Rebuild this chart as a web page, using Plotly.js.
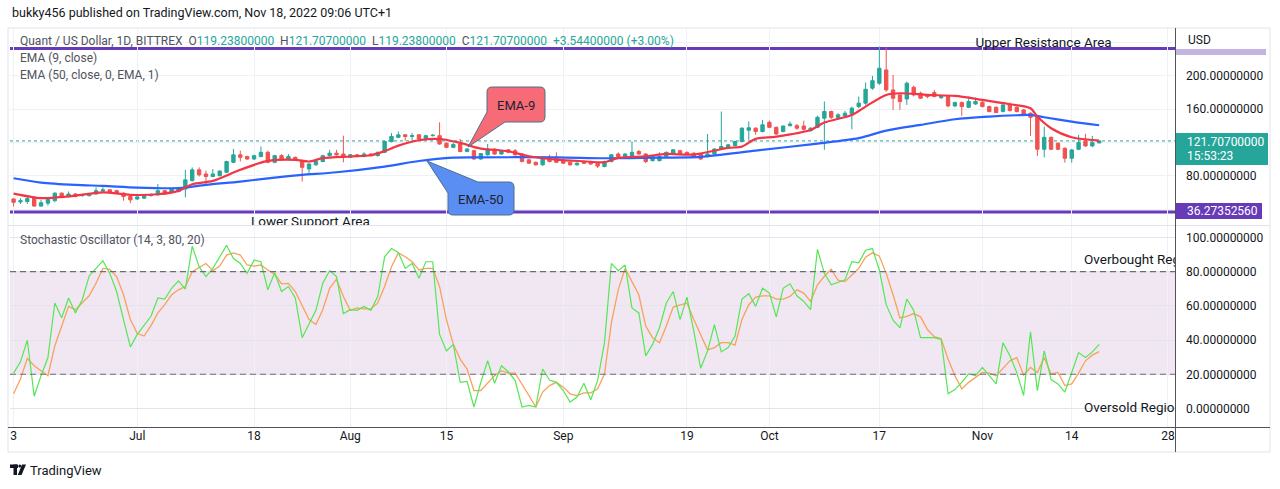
<!DOCTYPE html>
<html><head><meta charset="utf-8">
<script src="https://cdn.plot.ly/plotly-3.0.1.min.js"></script>
<style>html,body{margin:0;padding:0;background:#fff;overflow:hidden}#chart{width:1280px;height:489px}</style>
</head><body><div id="chart"></div>
<script>
// ---------- DATA ----------
const firstDay = '2022-06-13';   // first candle, one candle per day
const openP = [52,48.5,49,53.5,43.5,47,50,59,55,58,
56,56,58,61.5,63,62,59,55,52,53,
56,57,62,60,61,64,74,87,82,79,
80,84,96,105,103,100,103,108,96,104,
100,102,98,88,93,97,104,107,106,102,
105,103,106,104,108,121,126,129,127,129,
124,128,128,119,114,118,109,110,100,105,
112,106,111,110,106,99,96,93,101,101,
99,96,93,96,97,95,91,97,106,103,
103,109,106,98,98,103,106,110,108,107,
106,103,106,112,115,116,121,134.5,137,133,
144,138,133,140,140,139.5,134,138,149,157,
149.7,151.7,154,163,167,185,190.9,206.9,182.9,176.9,
172,186,178.9,176.9,179.7,173.7,174.9,163.7,167.7,162,
166,168.1,162.9,162.1,156.9,164.9,162,158.9,154.9,151.7,
111.7,126,118.9,112.9,100.9,111.7,121.7,115.7,119.238];
const highP = [53,53,54.5,55,51,53,60,60,61,59,
57.5,58.5,66,66,64,63,60,56,55.5,58,
58.5,70,63,65,65.5,87,90,90,86,88,
86.5,98,112,110,104,105,115,110,105,106,
106,103,99,95,100,105,111,111,128,106,
106,108,107,109,122,131,133,130,131,130,
129,130,144,120,119,124,113,111,107,118,
113,111,112,112,107,100,97,101,105,108,
100,97,96,97,98,96,98,106,108,107,
121,111,107,104,108,109,112,111,109,108,
107,130,113,157,118,122,138,145,138,147,
146,139,140,145,142,146,138,152,169,158,
155,157.7,163,175,191.7,199.7,234.9,234.1,200.9,179,
192.9,188,180.9,178,182.9,177,176,169,169,174.9,
173.7,169.5,164,163,166,167.7,163,160,156,152.5,
138.9,127,120,114,112,128.9,130.1,127.7,121.707];
const lowP = [43,46,46,43,43,44,48,53,54,54,
55,55,57,60.5,59,58,50,47,51,52,
55,56,57,59,60,54,73,79,70,78,
79,83,95,97,99,99,102,95,95,98,
99,98,73,82,92,96,103,104,96,101,
102,102,103,103,107,120,125,122,122,123,
123,127,117,113,113,108,108,99,99,104,
105,105,107,104,96,94,92,92,96,95,
94,92,92,94,93,89,90,96,102,102,
102,105,95,97,97,102,105,105,105,101,
99,102,105,111,114,115,120,123,129,132,
137,129,132,139,135,134,133,137,111,148,
147,150,135.7,161,165,183,188.9,180.9,158.9,158.9,
164.9,175,172,173,174,172,162,162,151.7,161,
165,162,156,155,156,157,156,152,127.7,103.7,
102.1,110.5,110.5,95.7,95.7,110.5,114.5,114.1,119.238];
const closeP = [48,50,52.5,43.5,47.5,51.5,59,54,58,55,
56.5,57.5,62,63,60,59,55,51,54.5,57,
57.5,62,58,64,64.5,75,87,81,79,82,
85.5,97,105,102,100,104,108,96,104,99,
103,99,90,94,97,104,107,105,102,105,
103,106,104,108,121,127,129,127,128,124,
128,128.5,118,114,117.5,109,112,100,106.5,112,
106,110,108,105,97,95,93,100,97,96,
95,93,95,95,94,91.5,97,105,103,106,
108,106,97,103,103,108,111,106,106,102,
100,106,112,115,117,121,137,137.5,133,141,
138,130,139.6,142,137,135.7,137,150,157,150,
153,155,161,167,183.7,194,208.9,182.9,172.9,168.9,
190.9,176.9,172.9,174.9,174.9,174.9,163.7,167.7,162.9,169,
169,162.9,156.9,155.7,164.9,158.1,156.9,152.9,150,111.7,
126,111.7,111.7,100.9,110.9,119.7,115.7,119.7,121.707];

// EMA lines read at sample days (day index from firstDay)
const ema9Day = [0,4,6,9,13,17,21,24,26,29,33,37,41,43,45,49,52,54,56,59,62,65,68,72,75,79,83,86,88,92,95,99,104,106,108,111,116,118,122,124,127,129,133,137,141,145,148,149,151,154,158];
const ema9Val = [58.5,53,53.7,56,60,57,57.7,61.7,69.7,73.7,87,97.7,99,97,101,103,104.5,109.5,116,122.5,124,119.3,112.5,109.3,103.3,99.3,97.3,96.1,101.3,103.3,106.1,105.3,113.3,114.9,124.1,126.9,134.9,143.7,152.9,162.9,176.9,178.9,176.9,175.7,170.9,165.7,160.9,150.9,136.9,126.1,122.1];
const ema50Day = [0,4,9,13,18,23,25,28,33,38,42,47,54,59,64,67,79,86,93,100,108,117,123,127,132,137,142,146,148,150,154,158];
const ema50Val = [76.9,71.7,68.9,67.7,65.7,64.9,65.7,68.9,72.9,77.7,80.9,84.1,90.9,97.6,101.6,102,102,100.9,101.6,102.5,110,118.5,125,134,140.9,147.7,150.9,152.5,152.9,150.1,144.9,140.5];

// Stochastic %K and %D, one value per candle
const stochK = [20.7,27.3,39.9,7.2,19.2,29.8,61.7,53,64.6,55.9,
63.6,77.5,81.9,86.4,79,68.4,52,36,43.3,48.5,
53.9,64.6,64,70.3,74.6,69.8,94.9,82.9,77.1,81.9,
89.1,95.4,87.7,84.8,79,86.8,85.8,69.4,79.4,68.4,
71.3,64.6,41.4,49.1,57.4,73.2,80.6,77.1,55.5,57.8,
57.4,59.7,57.4,65.5,88.7,93.5,91.2,81.9,84.8,76.1,
85.8,85.8,43.3,33.7,37.5,15.3,15.9,0.9,15.3,27.9,
14.8,25,21.5,16.3,0.9,1.8,0.9,23.1,16.7,15.3,
10.5,3.8,6.7,14.8,5.1,16.3,38.5,84.8,80.6,83.9,
58.8,55.9,30.8,37.5,47.2,61.7,68.4,52,65.1,45.3,
23.5,33.7,49.1,33.1,35.6,42.4,64,67.1,59.7,70.3,
67.5,53.6,70.3,72.9,65.9,62.6,57.8,93,79,72.3,
73.6,75.2,85.8,85.2,92.5,93.5,81,60.7,51.6,47.2,
64,57.4,41.4,41.4,41.4,40.4,8.6,11.1,15.3,20.2,
19.2,24,19.2,14.4,38.5,30.8,21.1,7.6,44.9,10.5,
33.7,16.9,14.4,9.6,21.1,32.7,29.8,33.1,37.5];
const stochD = [8.6,17.3,29.2,25,22.1,19.2,36.6,48.2,59.7,57.8,
61.7,65.9,73.2,81.9,81.4,77.1,66.5,52,43.9,42.4,
48.5,55.9,60.7,66.5,69.4,71.3,80,82.3,84.8,80.6,
83.3,89.7,91,89.7,83.9,83.3,83.9,81,78.6,72.9,
73.2,68.4,59.7,52,49.1,57.8,70.3,75.6,65.5,57.4,
58.8,58.2,58.2,61.7,71.3,82.9,91,88.7,85.8,81,
81.9,81.9,71.3,52,37.5,28.9,23.1,10.5,10.5,15,
19.2,22.1,20.7,20.7,14.4,7.6,0.9,9.6,13.4,15.3,
12.5,8.6,7.6,9.2,9.2,11.5,20.2,50.1,69.4,81.9,
74.2,66.5,48.2,41.4,38.5,48.2,59.3,60.7,61.7,52,
43.3,34.3,35.6,38.5,38.5,37,52,60.7,65.1,65.9,
65.9,64,64,65.5,69.4,67.5,62.6,72.3,77.3,81.4,
75,74.2,78.1,81.9,88.5,91,89.1,79,66.5,53,
53.9,55.5,53.6,46.2,42,40.8,28.9,19.2,11.5,15.3,
18.2,21.1,20.7,19.2,23.5,27.9,29.8,19.6,24,21.1,
29.8,20.2,21.1,13.4,14.4,20.7,27.9,31.2,33.3];

const tickDates = ['2022-06-13','2022-07-01','2022-07-18','2022-08-01','2022-08-15','2022-09-01','2022-09-19','2022-10-01','2022-10-17','2022-11-01','2022-11-14','2022-11-28'];
const tickLabels = ['3','Jul','18','Aug','15','Sep','19','Oct','17','Nov','14','28'];
const priceTicks = [40,80,120,160,200,240];
const priceTickText = ['','80.00000000','','160.00000000','200.00000000',''];
const stochTicks = [0,20,40,60,80,100];
const stochTickText = ['0.00000000','20.00000000','40.00000000','60.00000000','80.00000000','100.00000000'];
const lastPrice = 121.707;
const upperLevel = 232.6;
const lowerLevel = 36.27352560;

// ---------- helpers ----------
const DAY = 86400000;
const t0 = Date.parse(firstDay + 'T00:00:00Z');
function dayToDate(d){ return new Date(t0 + d*DAY).toISOString().replace('T',' ').slice(0,16); }
const dates = openP.map((_,i)=>dayToDate(i));

// pixel -> paper conversions for decorations
const PL=10, PR=1175, PT=28, PB=427;
const X = px => (px-PL)/(PR-PL);
const Y = py => (PB-py)/(PB-PT);

const F = 'Roboto, sans-serif';
const txtTrace = (d,y,text,pos,ax) => ({type:'scatter', mode:'text', x:[dayToDate(d)], y:[y], text:[text], textposition:pos,
  textfont:{family:F,size:13.5,color:'#131722'}, cliponaxis:true, hoverinfo:'skip', showlegend:false, xaxis:'x', yaxis:ax});

const traces = [
 {type:'candlestick', x:dates, open:openP, high:highP, low:lowP, close:closeP,
  increasing:{line:{color:'#26a69a',width:1},fillcolor:'#26a69a'},
  decreasing:{line:{color:'#ef5350',width:1},fillcolor:'#ef5350'},
  whiskerwidth:0, hoverinfo:'skip', showlegend:false, xaxis:'x', yaxis:'y'},
 {type:'scatter', mode:'lines', x:ema50Day.map(dayToDate), y:ema50Val,
  line:{color:'#2962ff',width:2.2,shape:'spline',smoothing:0.8}, hoverinfo:'skip', showlegend:false, xaxis:'x', yaxis:'y'},
 {type:'scatter', mode:'lines', x:ema9Day.map(dayToDate), y:ema9Val,
  line:{color:'#f23645',width:2.2,shape:'spline',smoothing:0.8}, hoverinfo:'skip', showlegend:false, xaxis:'x', yaxis:'y'},
 {type:'scatter', mode:'lines', x:dates, y:stochD,
  line:{color:'#f9a15c',width:1.3}, hoverinfo:'skip', showlegend:false, xaxis:'x', yaxis:'y2'},
 {type:'scatter', mode:'lines', x:dates, y:stochK,
  line:{color:'#55e655',width:1.2}, hoverinfo:'skip', showlegend:false, xaxis:'x', yaxis:'y2'},
 // texts clipped by their panes, as in the reference
 txtTrace(43.2, 24, 'Lower Support Area', 'middle center', 'y'),
 txtTrace(149.9, 238, 'Upper Resistance Area', 'middle center', 'y'),
 txtTrace(155.8, 86.6, 'Overbought Region', 'middle right', 'y2'),
 txtTrace(155.8, 0.0, 'Oversold Region', 'middle right', 'y2')
];

const r=5;
const ema9Path = `M ${X(487+r)},${Y(87)} L ${X(545-r)},${Y(87)} Q ${X(545)},${Y(87)} ${X(545)},${Y(87+r)} L ${X(545)},${Y(122-r)} Q ${X(545)},${Y(122)} ${X(545-r)},${Y(122)} L ${X(505)},${Y(122)} L ${X(468)},${Y(147)} L ${X(487)},${Y(112)} L ${X(487)},${Y(87+r)} Q ${X(487)},${Y(87)} ${X(487+r)},${Y(87)} Z`;
const ema50Path = `M ${X(478)},${Y(182)} L ${X(514-r)},${Y(182)} Q ${X(514)},${Y(182)} ${X(514)},${Y(182+r)} L ${X(514)},${Y(215-r)} Q ${X(514)},${Y(215)} ${X(514-r)},${Y(215)} L ${X(448+r)},${Y(215)} Q ${X(448)},${Y(215)} ${X(448)},${Y(215-r)} L ${X(448)},${Y(193)} L ${X(427)},${Y(161)} Z`;

const gridC = '#eef1f6';
const shapes = [
 // stochastic band
 {type:'rect', xref:'paper', x0:0, x1:1, yref:'y2', y0:20, y1:80, fillcolor:'rgba(120,40,140,0.11)', line:{width:0}, layer:'below'},
 {type:'line', xref:'paper', x0:0, x1:1, yref:'y2', y0:80, y1:80, line:{color:'#6b6e79',width:1.1,dash:'6px,4px'}, layer:'above'},
 {type:'line', xref:'paper', x0:0, x1:1, yref:'y2', y0:20, y1:20, line:{color:'#6b6e79',width:1.1,dash:'6px,4px'}, layer:'above'},
 // last price dotted line
 {type:'line', xref:'paper', x0:0, x1:1, yref:'y', y0:lastPrice, y1:lastPrice, line:{color:'#26a69a',width:1,dash:'dot'}, layer:'below'},
 // resistance / support lines
 {type:'line', xref:'paper', x0:0, x1:1, yref:'y', y0:upperLevel, y1:upperLevel, line:{color:'#673ab7',width:3}, layer:'below'},
 {type:'line', xref:'paper', x0:0, x1:1, yref:'y', y0:lowerLevel, y1:lowerLevel, line:{color:'#673ab7',width:3}, layer:'below'},
 // callouts
 {type:'path', xref:'paper', yref:'paper', path:ema9Path, fillcolor:'#f76b77', line:{color:'#4f6f8a',width:1}, layer:'above'},
 {type:'path', xref:'paper', yref:'paper', path:ema50Path, fillcolor:'#5b8ef2', line:{color:'#4f6f8a',width:1}, layer:'above'},
 // pane divider
 {type:'line', xref:'paper', yref:'paper', x0:X(8), x1:X(1270), y0:Y(225.5), y1:Y(225.5), line:{color:'#e0e3eb',width:1}},
 // outer frame
 {type:'rect', xref:'paper', yref:'paper', x0:X(8), x1:X(1270), y0:Y(28), y1:Y(452), line:{color:'#e0e3eb',width:1}, fillcolor:'rgba(0,0,0,0)'},
 // axis separators
 {type:'line', xref:'paper', yref:'paper', x0:X(1175.5), x1:X(1175.5), y0:Y(28), y1:Y(452), line:{color:'#50535e',width:1}},
 {type:'line', xref:'paper', yref:'paper', x0:X(8), x1:X(1270), y0:Y(427.5), y1:Y(427.5), line:{color:'#50535e',width:1}},
 // price labels on the axis
 {type:'rect', xref:'paper', yref:'paper', x0:X(1176), x1:X(1268), y0:Y(133), y1:Y(165), fillcolor:'#26a69a', line:{width:0}},
 {type:'rect', xref:'paper', yref:'paper', x0:X(1176), x1:X(1262), y0:Y(203), y1:Y(219), fillcolor:'#673ab7', line:{width:0}},
 {type:'rect', xref:'paper', yref:'paper', x0:X(1176), x1:X(1266), y0:Y(49), y1:Y(55), fillcolor:'#c4b4e2', line:{width:0}},
 // TradingView logo
 {type:'rect', xref:'paper', yref:'paper', x0:X(10), x1:X(18), y0:Y(464.5), y1:Y(468), fillcolor:'#131722', line:{width:0}},
 {type:'rect', xref:'paper', yref:'paper', x0:X(13.5), x1:X(17), y0:Y(464.5), y1:Y(475), fillcolor:'#131722', line:{width:0}},
 {type:'circle', xref:'paper', yref:'paper', x0:X(18.3), x1:X(21.3), y0:Y(464.5), y1:Y(467.6), fillcolor:'#131722', line:{width:0}},
 {type:'path', xref:'paper', yref:'paper', path:`M ${X(22)},${Y(464.5)} L ${X(26)},${Y(464.5)} L ${X(21.5)},${Y(475)} L ${X(17.8)},${Y(475)} Z`, fillcolor:'#131722', line:{width:0}}
];

const ann = (px,py,text,opt={}) => Object.assign({xref:'paper',yref:'paper',x:X(px),y:Y(py),text,showarrow:false,
  xanchor:'left',yanchor:'middle',font:{family:F,size:12,color:'#131722'}},opt);
const teal = s => `<span style="color:#26a69a">${s}</span>`;
const annotations = [
 ann(10,13,'bukky456 published on TradingView.com, Nov 18, 2022 09:06 UTC+1',{font:{family:F,size:12.5,color:'#131722'}}),
 ann(18,41,'Quant / US Dollar, 1D, BITTREX&nbsp;&nbsp;O'+teal('119.23800000')+'&nbsp;&nbsp;H'+teal('121.70700000')+'&nbsp;&nbsp;L'+teal('119.23800000')+'&nbsp;&nbsp;C'+teal('121.70700000')+'&nbsp;&nbsp;'+teal('+3.54400000 (+3.00%)'),{font:{family:F,size:12,color:'#50535e'}}),
 ann(18,58,'EMA (9, close)',{font:{family:F,size:12,color:'#50535e'}}),
 ann(18,75,'EMA (50, close, 0, EMA, 1)',{font:{family:F,size:12,color:'#50535e'}}),
 ann(18,240,'Stochastic Oscillator (14, 3, 80, 20)',{font:{family:F,size:12,color:'#50535e'}}),
 ann(516,105,'EMA-9',{xanchor:'center',font:{family:F,size:13,color:'#1e222d'}}),
 ann(481,199,'EMA-50',{xanchor:'center',font:{family:F,size:13,color:'#1e222d'}}),
 ann(1186,40,'USD',{font:{family:F,size:12,color:'#131722'}}),
 ann(1185,142,'121.70700000',{font:{family:F,size:12,color:'#ffffff'}}),
 ann(1185,156,'15:53:23',{font:{family:F,size:12,color:'#ffffff'}}),
 ann(1185,211,'36.27352560',{font:{family:F,size:12,color:'#ffffff'}}),
 ann(28,470,'TradingView',{font:{family:F,size:13,color:'#131722'}})
];

const layout = {
  width:1280, height:489, paper_bgcolor:'#ffffff', plot_bgcolor:'#ffffff',
  margin:{l:PL, r:1280-PR, t:PT, b:489-PB}, showlegend:false, dragmode:false,
  font:{family:F,size:12,color:'#131722'},
  xaxis:{type:'date', anchor:'y2', range:['2022-06-12 11:30','2022-11-29 00:45'],
    tickvals:tickDates, ticktext:tickLabels, showgrid:true, gridcolor:gridC, gridwidth:1,
    ticks:'', showline:false, zeroline:false, rangeslider:{visible:false},
    tickfont:{family:F,size:12,color:'#131722'}, fixedrange:true},
  yaxis:{domain:[Y(225),1], range:[20.8,257.2], side:'right', tickvals:priceTicks, ticktext:priceTickText,
    showgrid:true, gridcolor:gridC, zeroline:false, showline:false, ticks:'', ticklabelstandoff:10,
    tickfont:{family:F,size:12,color:'#131722'}, fixedrange:true},
  yaxis2:{domain:[0,Y(226)], range:[-10.8,106.7], side:'right', tickvals:stochTicks, ticktext:stochTickText,
    showgrid:true, gridcolor:'#e6e3ec', zeroline:false, showline:false, ticks:'', ticklabelstandoff:10,
    tickfont:{family:F,size:12,color:'#131722'}, fixedrange:true},
  shapes, annotations
};
Plotly.newPlot('chart', traces, layout, {displayModeBar:false, staticPlot:true});
</script></body></html>
